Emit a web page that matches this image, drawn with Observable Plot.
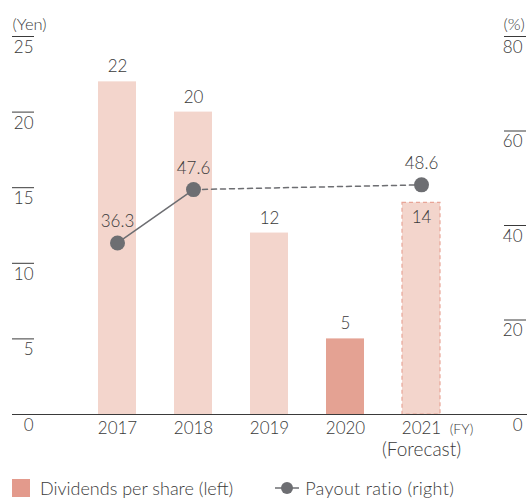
<!DOCTYPE html>
<html>
<head>
<meta charset="utf-8">
<script src="https://cdn.jsdelivr.net/npm/d3@7"></script>
<script src="https://cdn.jsdelivr.net/npm/@observablehq/plot@0.6"></script>
<style>
  body { margin: 0; background: #fff; font-family: Lato, "Noto Sans", sans-serif; font-weight: 300; color: #3a3a3a; }
  #legend { display: flex; align-items: center; height: 28px; margin-top: 5px; font-size: 18px; color: #3a3a3a; }
  .sw { display: inline-block; width: 18px; height: 18px; background: #e39a8c; margin-left: 12px; margin-right: 10px; }
  .lm { display: inline-block; margin-left: 42px; margin-right: 6px; vertical-align: middle; }
</style>
</head>
<body>
<div id="chart"></div>
<div id="legend">
  <span class="sw"></span><span>Dividends per share (left)</span>
  <svg class="lm" width="24" height="14"><line x1="0" y1="7" x2="24" y2="7" stroke="#6d6e72" stroke-width="1.5"></line><circle cx="12" cy="7" r="6" fill="#6d6e72"></circle></svg><span style="letter-spacing:0.3px">Payout ratio (right)</span>
</div>
<script>
const years = ["2017", "2018", "2019", "2020", "2021"];
const dividends = [22, 20, 12, 5, 14];
const barKind = ["actual", "actual", "actual", "highlight", "forecast"];
const payoutYears = ["2017", "2018", "2021"];
const payout = [36.3, 47.6, 48.6];
const leftTicks = [0, 5, 10, 15, 20, 25];
const rightTicks = [0, 20, 40, 60, 80];
const yMax = 25, rMax = 80;

const bars = years.map((y, i) => ({year: y, value: dividends[i], kind: barKind[i]}));
const ratios = payoutYears.map((y, i) => ({year: y, ratio: payout[i], r: payout[i] * yMax / rMax}));
const solidSeg = ratios.slice(0, 2);
const dashSeg = ratios.slice(1);
const rightPos = rightTicks.map(v => ({label: String(v), y: v * yMax / rMax}));

const ink = "#3a3a3a";
const gray = "#6d6e72";
const fillOf = k => k === "highlight" ? "#e4a293" : "#f3d5cc";

const chart = Plot.plot({
  width: 527,
  height: 469,
  marginTop: 36,
  marginBottom: 55,
  marginLeft: 34,
  marginRight: 24,
  style: {fontFamily: "Lato, 'Noto Sans', sans-serif", fontSize: "17px", fontWeight: 300, color: ink, background: "#fff"},
  x: {type: "band", domain: years, range: [60, 478], padding: 0.5, axis: null},
  y: {domain: [0, yMax], axis: null},
  marks: [
    Plot.barY(bars, {x: "year", y: "value", fill: d => fillOf(d.kind)}),
    Plot.barY(bars.filter(d => d.kind === "forecast"), {x: "year", y: "value", fill: "none", stroke: "#e8a597", strokeWidth: 1.2, strokeDasharray: "4,3"}),
    Plot.ruleY([0], {stroke: ink, strokeWidth: 1.2, insetLeft: -22, insetRight: -24}),
    Plot.axisY(leftTicks.filter(v => v > 0), {anchor: "left", tickSize: 22, text: null, stroke: ink, label: null}),
    Plot.axisY(rightPos.filter(d => d.y > 0).map(d => d.y), {anchor: "right", tickSize: 22, text: null, stroke: ink, label: null}),
    Plot.text(leftTicks, {y: d => d, text: d => String(d), frameAnchor: "left", dx: -1, dy: 11, textAnchor: "end", fill: ink}),
    Plot.text(rightPos, {y: "y", text: "label", frameAnchor: "right", dx: 19, dy: 11, textAnchor: "end", fill: ink}),
    Plot.text(["(Yen)"], {frameAnchor: "top-left", dx: -22, dy: -18, textAnchor: "start", fill: ink, fontSize: 16.5}),
    Plot.text(["(%)"], {frameAnchor: "top-right", dx: 0, dy: -18, textAnchor: "start", fill: ink, fontSize: 16.5}),
    Plot.text(years, {x: d => d, frameAnchor: "bottom", dy: 19, fill: ink}),
    Plot.text(["(FY)"], {x: () => "2021", frameAnchor: "bottom", dx: 40, dy: 19, fill: ink, fontSize: 14}),
    Plot.text(["(Forecast)"], {x: () => "2021", frameAnchor: "bottom", dy: 41, fill: ink, fontSize: 19}),
    Plot.text(bars.filter(d => d.kind !== "forecast"), {x: "year", y: "value", text: d => String(d.value), dy: -15, fill: ink}),
    Plot.text(bars.filter(d => d.kind === "forecast"), {x: "year", y: "value", text: d => String(d.value), dy: 15, fill: ink}),
    Plot.line(solidSeg, {x: "year", y: "r", stroke: gray, strokeWidth: 1.5}),
    Plot.line(dashSeg, {x: "year", y: "r", stroke: gray, strokeWidth: 1.5, strokeDasharray: "5,4"}),
    Plot.dot(ratios, {x: "year", y: "r", r: 7.5, fill: gray}),
    Plot.text(ratios, {x: "year", y: "r", text: d => d.ratio.toFixed(1), dy: -21, fill: ink})
  ]
});
document.getElementById("chart").appendChild(chart);
</script>
</body>
</html>
